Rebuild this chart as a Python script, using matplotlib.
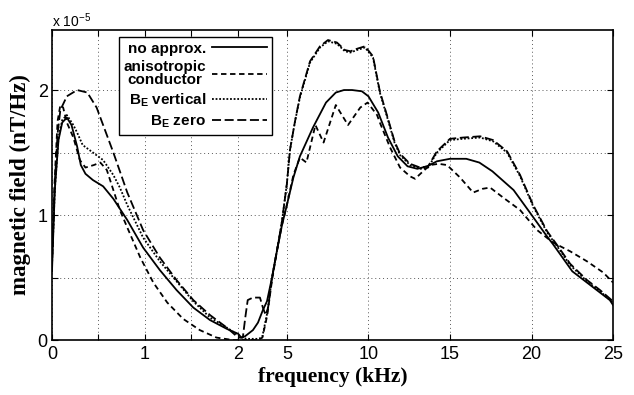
import numpy as np
import matplotlib
matplotlib.use('Agg')
import matplotlib.pyplot as plt
from matplotlib.lines import Line2D

plt.rcParams['font.family'] = 'Liberation Sans'
plt.rcParams['mathtext.fontset'] = 'custom'
plt.rcParams['mathtext.rm'] = 'Liberation Sans'
plt.rcParams['mathtext.bf'] = 'Liberation Sans:bold'

# magnetic field in units of 1e-5 nT/Hz, frequency in kHz
f_noapprox = [0.0, 0.03, 0.07, 0.11, 0.16, 0.21, 0.27, 0.31, 0.36, 0.44, 0.55, 0.66, 0.81, 0.98,
              1.16, 1.34, 1.52, 1.70, 1.88, 2.02, 2.2, 2.43, 2.92, 3.23, 3.53, 3.78, 4.09, 4.4,
              4.7, 5.0, 5.4, 5.8, 6.6, 7.4, 8.0, 8.5, 9.0, 9.6, 10.0, 10.6, 11.2, 11.8, 12.4,
              13.0, 13.6, 14.2, 15.0, 16.0, 16.8, 17.6, 18.9, 19.9, 21.0, 21.3, 22.5, 23.4,
              24.2, 24.8, 25.0]
b_noapprox = [0.55, 1.2, 1.6, 1.74, 1.78, 1.72, 1.55, 1.40, 1.33, 1.28, 1.23, 1.13, 0.96, 0.74,
              0.56, 0.40, 0.26, 0.16, 0.09, 0.05, 0.02, 0.03, 0.08, 0.14, 0.24, 0.31, 0.5, 0.72,
              0.92, 1.08, 1.3, 1.47, 1.70, 1.90, 1.98, 2.0, 2.0, 1.99, 1.95, 1.82, 1.62, 1.47, 1.39,
              1.37, 1.39, 1.43, 1.45, 1.45, 1.42, 1.35, 1.2, 1.02, 0.82, 0.77, 0.55, 0.46,
              0.38, 0.32, 0.28]

f_aniso = [0.0, 0.03, 0.06, 0.09, 0.12, 0.16, 0.23, 0.30, 0.36, 0.45, 0.52, 0.59, 0.66, 0.73,
           0.81, 0.95, 1.09, 1.24, 1.41, 1.59, 1.77, 1.95, 2.5, 3.2, 3.5, 3.8, 4.09, 4.4, 4.7,
           5.0, 5.4, 5.8, 6.2, 6.75, 7.25, 8.0, 8.75, 9.5, 9.95, 10.53, 10.7, 11.33, 11.94,
           12.55, 12.86, 13.35, 13.78, 14.3, 14.82, 15.62, 16.42, 17.0, 17.46, 18.26, 19.3,
           20.34, 21.32, 22.37, 23.4, 24.4, 25.0]
b_aniso = [0.6, 1.3, 1.75, 1.88, 1.86, 1.74, 1.62, 1.44, 1.38, 1.40, 1.42, 1.36, 1.20, 1.04,
           0.90, 0.66, 0.46, 0.30, 0.17, 0.08, 0.02, 0.0, 0.0, 0.0, 0.02, 0.2, 0.48, 0.72, 0.92,
           1.08, 1.32, 1.46, 1.42, 1.72, 1.58, 1.88, 1.72, 1.86, 1.90, 1.80, 1.74, 1.54, 1.38,
           1.31, 1.29, 1.35, 1.40, 1.41, 1.40, 1.30, 1.18, 1.21, 1.22, 1.14, 1.04,
           0.88, 0.78, 0.71, 0.63, 0.54, 0.46]

f_vert = [0.0, 0.03, 0.07, 0.11, 0.16, 0.23, 0.27, 0.33, 0.44, 0.55, 0.66, 0.73, 0.81, 0.98,
          1.16, 1.34, 1.52, 1.70, 1.88, 2.02, 2.5, 3.3, 3.5, 3.8, 4.09, 4.4, 4.7, 5.0, 5.19,
          5.5, 5.8, 6.42, 7.03, 7.52, 8.07, 8.56, 8.9, 9.3, 9.79, 10.28, 10.7, 11.2, 11.6,
          11.94, 12.55, 13.17, 13.66, 14.2, 15.0, 15.8, 16.85, 17.64, 18.5, 19.3, 20.1,
          20.96, 21.57, 22.37, 23.4, 24.2, 25.0]
b_vert = [0.6, 1.2, 1.62, 1.76, 1.80, 1.72, 1.66, 1.56, 1.50, 1.44, 1.32, 1.22, 1.08, 0.82,
          0.63, 0.47, 0.31, 0.18, 0.10, 0.04, 0.01, 0.01, 0.03, 0.22, 0.5, 0.72, 0.95, 1.25, 1.52,
          1.75, 1.94, 2.22, 2.34, 2.39, 2.37, 2.31, 2.30, 2.32, 2.34, 2.26, 1.98, 1.76, 1.58,
          1.48, 1.40, 1.37, 1.38, 1.50, 1.60, 1.61, 1.62, 1.59, 1.50, 1.31, 1.07,
          0.86, 0.75, 0.60, 0.47, 0.39, 0.30]

f_zero = [0.0, 0.03, 0.06, 0.09, 0.16, 0.27, 0.38, 0.48, 0.57, 0.66, 0.81, 0.98, 1.16, 1.34,
          1.52, 1.70, 1.88, 2.02, 2.3, 2.45, 2.6, 2.92, 3.35, 3.53, 3.7, 3.85, 4.09, 4.4, 4.7,
          5.0, 5.19, 5.5, 5.8, 6.42, 7.03, 7.52, 8.07, 8.56, 8.9, 9.3, 9.79, 10.28, 10.7, 11.2,
          11.6, 11.94, 12.55, 13.17, 13.66, 14.2, 15.0, 15.8, 16.85, 17.64, 18.5, 19.3, 20.1,
          20.96, 21.57, 22.37, 23.4, 24.2, 25.0]
b_zero = [0.65, 1.25, 1.65, 1.84, 1.95, 2.0, 1.98, 1.86, 1.68, 1.50, 1.18, 0.88, 0.66, 0.48,
          0.32, 0.20, 0.10, 0.02, 0.02, 0.18, 0.32, 0.34, 0.34, 0.26, 0.2, 0.26, 0.5, 0.72, 0.95,
          1.25, 1.52, 1.75, 1.95, 2.23, 2.35, 2.40, 2.38, 2.32, 2.31, 2.33, 2.35, 2.27, 1.99,
          1.77, 1.59, 1.49, 1.41, 1.38, 1.39, 1.51, 1.61, 1.62, 1.63, 1.60, 1.51, 1.32, 1.08,
          0.87, 0.76, 0.61, 0.48, 0.40, 0.31]

xticks = [0, 0.5, 1, 1.5, 2, 5, 10, 15, 20, 25]
xticklabels = ['0', '', '1', '', '2', '5', '10', '15', '20', '25']
yticks = [0, 0.5, 1, 1.5, 2]
yticklabels = ['0', '', '1', '', '2']

# 0-2 kHz stretched, 2-25 kHz linear
K = 5.7


def fwd(x):
    x = np.asarray(x, dtype=float)
    return np.where(x <= 2, x * K, 2 * K + (x - 2))


def inv(t):
    t = np.asarray(t, dtype=float)
    return np.where(t <= 2 * K, t / K, t - 2 * K + 2)


fig = plt.figure(figsize=(6.34, 3.95), dpi=100)
ax = fig.add_axes([0.082, 0.139, 0.885, 0.785])
ax.set_xscale('function', functions=(fwd, inv))

lw = 1.3
ax.plot(f_noapprox, b_noapprox, color='black', lw=lw, ls='-')
ax.plot(f_aniso, b_aniso, color='black', lw=lw, ls=(0, (3, 2)))
ax.plot(f_vert, b_vert, color='black', lw=lw, ls=(0, (1, 1)))
ax.plot(f_zero, b_zero, color='black', lw=lw, ls=(0, (5, 2)))

ax.set_xlim(0, 25)
ax.set_ylim(0, 2.48)
ax.set_xticks(xticks)
ax.set_xticklabels(xticklabels)
ax.set_yticks(yticks)
ax.set_yticklabels(yticklabels)
ax.tick_params(direction='in', top=True, right=True, length=4, width=0.8,
               labelsize=13, color='black')
ax.tick_params(axis='x', pad=4)
ax.tick_params(axis='y', pad=3)
ax.grid(True, color='0.35', lw=0.7, ls=(0, (1, 3)))
for s in ax.spines.values():
    s.set_linewidth(1.2)

ax.set_xlabel('frequency (kHz)', family='Liberation Serif', fontweight='bold',
              fontsize=15.5, labelpad=3)
ax.set_ylabel('magnetic field (nT/Hz)', family='Liberation Serif', fontweight='bold',
              fontsize=16.5, labelpad=5)
ax.text(0.0, 1.01, r'x 10$^{-5}$', transform=ax.transAxes, fontsize=10, va='baseline')

handles = [
    Line2D([], [], color='black', lw=lw, ls='-'),
    Line2D([], [], color='black', lw=lw, ls=(0, (3, 2))),
    Line2D([], [], color='black', lw=lw, ls=(0, (1, 1))),
    Line2D([], [], color='black', lw=lw, ls=(0, (5, 2))),
]
labels = ['no approx.', 'anisotropic\nconductor', r'B$_\mathbf{E}$ vertical', r'B$_\mathbf{E}$ zero']
leg = ax.legend(handles, labels, loc='upper left', bbox_to_anchor=(0.119, 0.977),
                markerfirst=False, frameon=True, fancybox=False, framealpha=1,
                edgecolor='black', handlelength=3.6, handletextpad=0.4,
                labelspacing=0.3, borderpad=0.3, borderaxespad=0,
                prop={'weight': 'bold', 'size': 11})
leg.get_frame().set_linewidth(1.0)
for t in leg.get_texts():
    t.set_multialignment('center')
    t.set_linespacing(0.85)

plt.savefig('out.png', dpi=100)
